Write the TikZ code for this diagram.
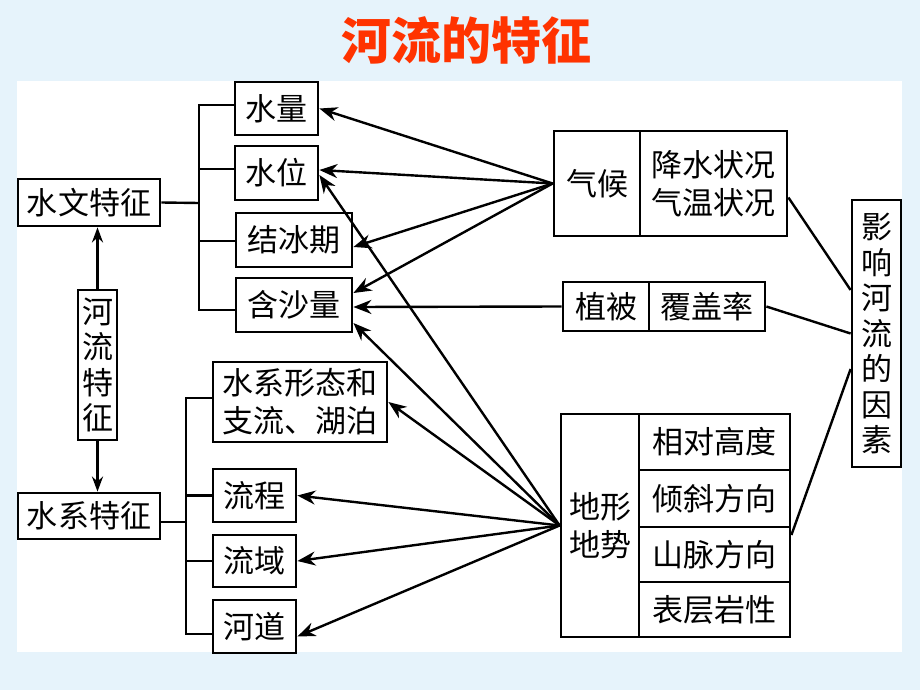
\documentclass[tikz,border=0pt]{standalone}
\usepackage{fontspec}
\newfontfamily\cjk{Noto Sans CJK SC}
\usetikzlibrary{arrows.meta}
\definecolor{bg}{RGB}{230,243,251}
\definecolor{titlered}{RGB}{255,51,0}
\begin{document}
\begin{tikzpicture}[x=1pt,y=-1pt,
  box/.style={draw,line width=2.8pt,inner sep=0pt,fill=white,align=center,
    font=\cjk\fontsize{31}{38}\selectfont},
  vbox/.style={box,font=\cjk\fontsize{31}{35.5}\selectfont},
  conn/.style={line width=2.4pt},
  arr/.style={conn,-{Stealth[length=18pt,width=14pt]}}]
\fill[bg] (0,0) rectangle (920,690);
\fill[white] (17,81) rectangle (902,652);
\useasboundingbox (0,0) rectangle (920,690);

\node[font=\cjk\bfseries\fontsize{50}{56}\selectfont,text=titlered] (title) at (466,40) {河流的特征};

% left column
\node[box,minimum width=142pt,minimum height=47pt] (swt) at (89,202.5) {水文特征};
\node[vbox,minimum width=39pt,minimum height=150pt] (hl) at (97.5,365) {河\\流\\特\\征};
\node[box,minimum width=142pt,minimum height=46pt] (sxt) at (89,516) {水系特征};

% hydrology items
\node[box,minimum width=83pt,minimum height=53pt] (sl) at (276.5,108.5) {水量};
\node[box,minimum width=83pt,minimum height=54pt] (sw) at (276.5,173) {水位};
\node[box,minimum width=116pt,minimum height=54pt] (jb) at (294,240) {结冰期};
\node[box,minimum width=116pt,minimum height=54pt] (hs) at (294,305) {含沙量};

% river system items
\node[box,minimum width=174pt,minimum height=80pt] (xt) at (300,402) {水系形态和\\支流、湖泊};
\node[box,minimum width=83pt,minimum height=53pt] (lc) at (254.5,495.5) {流程};
\node[box,minimum width=83pt,minimum height=52pt] (ly) at (254.5,561) {流域};
\node[box,minimum width=83pt,minimum height=53pt] (hd) at (254.5,626.5) {河道};

% factors
\node[box,minimum width=86pt,minimum height=105pt] (qhl) at (597,183.5) {气候};
\node[box,minimum width=147pt,minimum height=105pt] (qhr) at (713.5,183.5) {降水状况\\气温状况};
\node[box,minimum width=86pt,minimum height=49pt] (zbl) at (606,306.5) {植被};
\node[box,minimum width=116pt,minimum height=49pt] (zbr) at (707,306.5) {覆盖率};
\node[box,minimum width=78pt,minimum height=223pt] (dxl) at (600,525.5) {地形\\地势};
\node[box,minimum width=151pt,minimum height=56pt] (dr1) at (714.5,442) {相对高度};
\node[box,minimum width=151pt,minimum height=57pt] (dr2) at (714.5,498.5) {倾斜方向};
\node[box,minimum width=151pt,minimum height=55pt] (dr3) at (714.5,554.5) {山脉方向};
\node[box,minimum width=151pt,minimum height=55pt] (dr4) at (714.5,609.5) {表层岩性};
\node[vbox,minimum width=49pt,minimum height=267pt] (yx) at (876.5,333.5) {影\\响\\河\\流\\的\\因\\素};

% brackets
\coordinate (b1) at (199,203);
\draw[conn] (swt.east) -- (b1);
\draw[conn] ([yshift=3.5pt]sl.west) -| (b1);
\draw[conn] ([yshift=4pt]sw.west) -| (b1);
\draw[conn] ([yshift=-1pt]jb.west) -| (b1);
\draw[conn] ([yshift=-5pt]hs.west) -| (b1);

\coordinate (b2) at (186,522);
\draw[conn] ([yshift=-6pt]sxt.east) -- (b2);
\draw[conn] ([yshift=4pt]xt.west) -| (b2);
\draw[conn] (lc.west) -| (b2);
\draw[conn] (ly.west) -| (b2);
\draw[conn] ([yshift=-7.5pt]hd.west) -| (b2);

% up/down arrows
\draw[conn,-{Stealth[length=15pt,width=11pt]}] (hl.north) -- (hl.north |- swt.south);
\draw[conn,-{Stealth[length=15pt,width=11pt]}] (hl.south) -- (hl.south |- sxt.north);

% arrows from climate
\draw[arr] (qhl.west) -- (sl.east);
\draw[arr] (qhl.west) -- ([yshift=3pt]sw.east);
\draw[arr] (qhl.west) -- ([yshift=-7pt]jb.east);
\draw[arr] (qhl.west) -- ([yshift=12pt]hs.east);
% vegetation
\draw[arr] (zbl.west) -- ([yshift=-2pt]hs.east);
% terrain
\draw[arr] (dxl.west) -- ([yshift=-2pt]sw.east);
\draw[arr] (dxl.west) -- ([yshift=-18pt]hs.east);
\draw[arr] (dxl.west) -- (xt.east);
\draw[arr] (dxl.west) -- (lc.east);
\draw[arr] (dxl.west) -- (ly.east);
\draw[arr] (dxl.west) -- ([yshift=-10pt]hd.east);

% lines to influencing factors
\draw[conn] ([yshift=-14pt]qhr.east) -- ([yshift=43.5pt]yx.west);
\draw[conn] (zbr.east) -- (yx.west);
\draw[conn] ([yshift=19.5pt]dr3.east) -- ([yshift=-35.5pt]yx.west);
\end{tikzpicture}
\end{document}
